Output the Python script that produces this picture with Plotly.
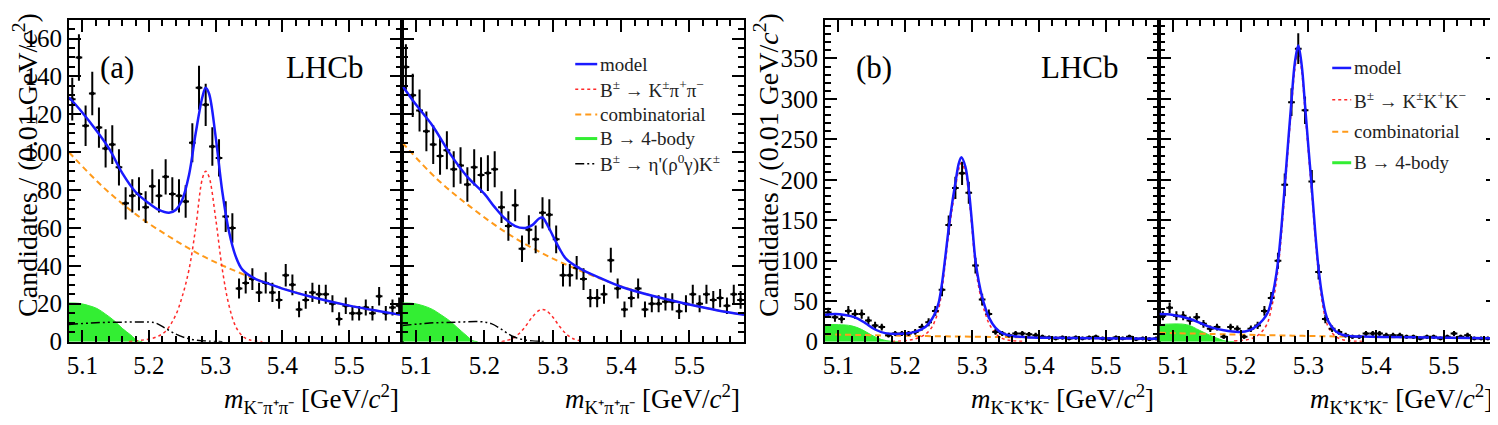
import plotly.graph_objects as go

W, H = 1498, 425

# ---------------- data ----------------
mass_bins = [5.085, 5.095, 5.105, 5.115, 5.125, 5.135, 5.145, 5.155, 5.165, 5.175,
             5.185, 5.195, 5.205, 5.215, 5.225, 5.235, 5.245, 5.255, 5.265, 5.275,
             5.285, 5.295, 5.305, 5.315, 5.325, 5.335, 5.345, 5.355, 5.365, 5.375,
             5.385, 5.395, 5.405, 5.415, 5.425, 5.435, 5.445, 5.455, 5.465, 5.475,
             5.485, 5.495, 5.505, 5.515, 5.525, 5.535, 5.545, 5.555, 5.565, 5.575]

counts_Kmpipi = [128, 150, 114, 131, 113, 102, 104, 92, 73, 77,
                 78, 71, 82, 77, 87, 78, 77, 74, 105, 134,
                 125, 103, 97, 66, 60, 28, 31, 33, 26, 31,
                 26, 22, 35, 30, 17, 22, 26, 25, 25, 20,
                 12, 19, 15, 15, 18, 15, 24, 15, 18, 19]
counts_Kppipi = [145, 130, 122, 111, 104, 98, 101, 91, 93, 83,
                 92, 88, 89, 91, 71, 61, 72, 49, 59, 54,
                 68, 67, 54, 35, 35, 39, 33, 23, 23, 25,
                 43, 28, 17, 23, 28, 17, 20, 20, 21, 21,
                 16, 20, 25, 20, 25, 22, 23, 19, 25, 22]
counts_KmKK = [36, 30, 28, 38, 34, 34, 26, 20, 18, 8,
               10, 10, 10, 12, 18, 24, 38, 64, 144, 190,
               208, 184, 94, 52, 34, 12, 10, 8, 10, 10,
               9, 8, 6, 5, 4, 5, 4, 5, 4, 5,
               6, 4, 3, 5, 4, 6, 3, 4, 3, 4]
counts_KpKK = [32, 42, 32, 32, 26, 30, 22, 16, 18, 6,
               18, 16, 6, 16, 20, 38, 54, 100, 194, 296,
               362, 286, 198, 86, 28, 16, 12, 8, 6, 6,
               10, 10, 10, 8, 8, 8, 6, 6, 4, 6,
               6, 4, 6, 10, 6, 8, 4, 4, 4, 4]

# fit components (panel a, K- pi+ pi-)
a1_model_x = [5.080, 5.100, 5.120, 5.140, 5.160, 5.180, 5.200, 5.215, 5.230, 5.240, 5.250, 5.260,
              5.270, 5.280, 5.285, 5.290, 5.300, 5.310, 5.320, 5.330, 5.340, 5.360, 5.380, 5.400,
              5.450, 5.500, 5.550, 5.580]
a1_model_y = [129, 121, 112, 102, 89, 79, 73, 69.5, 68, 69.5, 75, 88,
              110, 129, 134, 131, 108, 79, 58, 45, 38, 33, 30.5, 28,
              23, 19, 15.8, 14]
a1_comb_x = [5.08, 5.13, 5.18, 5.23, 5.28, 5.33, 5.38, 5.43, 5.48, 5.53, 5.58]
a1_comb_y = [100, 82, 67.3, 55.5, 45.3, 37.2, 30.5, 25, 20.5, 17, 14]
a1_sig_x = [5.17, 5.19, 5.21, 5.225, 5.24, 5.25, 5.26, 5.27, 5.28, 5.285, 5.29, 5.30,
            5.31, 5.32, 5.33, 5.34, 5.35, 5.37]
a1_sig_y = [0, 0.8, 2.3, 5.5, 14, 24, 38, 60, 86, 90, 87, 65,
            38, 19, 8, 3, 1, 0]
a1_4b_x = [5.08, 5.095, 5.11, 5.122, 5.135, 5.148, 5.16, 5.173, 5.183, 5.19]
a1_4b_y = [20.4, 20.2, 19, 17.5, 14.5, 11, 7, 3.4, 0.5, 0]
a1_eta_x = [5.08, 5.12, 5.16, 5.20, 5.21, 5.225, 5.24, 5.255, 5.27, 5.29, 5.31]
a1_eta_y = [9, 10, 10.3, 10.3, 9.8, 7, 4, 2, 0.8, 0.2, 0]

# panel a, K+ pi+ pi-
a2_model_x = [5.080, 5.100, 5.124, 5.150, 5.175, 5.200, 5.215, 5.230, 5.245, 5.260, 5.270, 5.280,
              5.285, 5.290, 5.300, 5.310, 5.320, 5.340, 5.370, 5.400, 5.450, 5.500, 5.540, 5.580]
a2_model_y = [135, 125, 114, 99, 87, 78, 71, 65, 61, 60, 61.5, 65,
              65.5, 63, 56, 49, 43.5, 38.5, 33.5, 29, 23.8, 19.6, 16.6, 14.2]
a2_comb_x = [5.08, 5.13, 5.18, 5.23, 5.28, 5.33, 5.38, 5.43, 5.48, 5.53, 5.58]
a2_comb_y = [105, 86, 71, 58, 47.5, 39, 31.8, 25.8, 21.2, 17.3, 14.2]
a2_sig_x = [5.225, 5.24, 5.25, 5.26, 5.27, 5.28, 5.285, 5.29, 5.30, 5.31, 5.32, 5.33, 5.345]
a2_sig_y = [0, 1.5, 4, 8, 13, 16.5, 17, 16.5, 13, 8, 4, 1.5, 0]
a2_4b_x = [5.08, 5.095, 5.11, 5.124, 5.135, 5.149, 5.16, 5.173, 5.183, 5.19]
a2_4b_y = [20.4, 20.2, 19, 17, 14.5, 11, 7.5, 3.4, 0.5, 0]
a2_eta_x = [5.08, 5.12, 5.16, 5.195, 5.21, 5.225, 5.24, 5.255, 5.27, 5.29]
a2_eta_y = [8.5, 9.8, 10.3, 10.5, 9.5, 6.5, 3, 1.2, 0.4, 0]

# panel b, K- K+ K-
b1_model_x = [5.080, 5.095, 5.110, 5.125, 5.140, 5.155, 5.170, 5.185, 5.200, 5.215, 5.230, 5.240,
              5.245, 5.250, 5.255, 5.260, 5.265, 5.270, 5.275, 5.280, 5.284, 5.290, 5.295, 5.300,
              5.305, 5.310, 5.315, 5.320, 5.325, 5.335, 5.345, 5.360, 5.380, 5.420, 5.480, 5.580]
b1_model_y = [33, 34, 33, 30, 23, 15, 10.5, 9.5, 10, 12, 18, 28,
              36, 48, 72, 105, 140, 170, 196, 220, 228, 216, 188, 145,
              100, 74, 55, 41, 30, 17, 10.5, 7, 5.5, 4.8, 4.3, 3.5]
b1_comb_x = [5.08, 5.18, 5.28, 5.38, 5.48, 5.58]
b1_comb_y = [9, 7.5, 6.3, 5.3, 4.3, 3.5]
b1_sig_x = [5.18, 5.20, 5.215, 5.23, 5.24, 5.245, 5.25, 5.255, 5.26, 5.265, 5.27, 5.275, 5.28,
            5.284, 5.29, 5.295, 5.30, 5.305, 5.31, 5.315, 5.32, 5.325, 5.335, 5.345, 5.36, 5.38]
b1_sig_y = [0.3, 1.2, 3.5, 9, 18, 27, 40, 64, 98, 133, 163, 189, 213,
            221, 209, 181, 138, 93, 67, 48, 34, 23, 10, 4, 1.2, 0.3]
b1_4b_x = [5.08, 5.10, 5.12, 5.135, 5.15, 5.165, 5.18, 5.19]
b1_4b_y = [21, 21, 19.5, 15, 8, 2.5, 0.3, 0]

# panel b, K+ K+ K-
b2_model_x = [5.080, 5.100, 5.125, 5.140, 5.155, 5.175, 5.198, 5.213, 5.223, 5.233, 5.240, 5.245,
              5.250, 5.255, 5.260, 5.265, 5.270, 5.275, 5.280, 5.285, 5.290, 5.295, 5.300, 5.305,
              5.310, 5.315, 5.320, 5.325, 5.330, 5.340, 5.350, 5.360, 5.380, 5.420, 5.480, 5.580]
b2_model_y = [34, 33, 28, 23, 18, 14, 12, 14, 19, 27, 36, 50,
              70, 98, 140, 192, 246, 298, 345, 366, 342, 292, 240, 190,
              136, 90, 58, 36, 24, 13, 8.5, 7, 6.2, 5.6, 5, 4.2]
b2_comb_x = [5.08, 5.18, 5.28, 5.38, 5.48, 5.58]
b2_comb_y = [11, 9, 7.3, 6, 5, 4.2]
b2_sig_x = [5.19, 5.20, 5.213, 5.223, 5.233, 5.24, 5.245, 5.25, 5.255, 5.26, 5.265, 5.27, 5.275,
            5.28, 5.285, 5.29, 5.295, 5.30, 5.305, 5.31, 5.315, 5.32, 5.325, 5.33, 5.34, 5.35,
            5.36, 5.38]
b2_sig_y = [0.8, 1.5, 3, 6.5, 14, 24, 40, 60, 89, 131, 184, 238, 290,
            337, 359, 335, 285, 233, 183, 129, 83, 51, 29, 17, 6.5, 2.5,
            1, 0.3]
b2_4b_x = [5.08, 5.12, 5.139, 5.154, 5.169, 5.179, 5.19]
b2_4b_y = [21, 21, 14, 8, 3, 0.5, 0]

x_tick_vals = [5.1, 5.2, 5.3, 5.4, 5.5]

# ---------------- styles ----------------
SERIF = "'Liberation Serif', 'Times New Roman', Times, serif"
C_MODEL = "#1a1aff"
C_SIG = "#ff2a2a"
C_COMB = "#ff9a1a"
C_4B = "#33ee33"
C_ETA = "black"
DASH_ETA = "9px,3px,2px,3px,2px,3px"
DASH_COMB = "6px,4px"

def px2fx(px):
    return px / W

def px2fy(py):
    return 1 - py / H

YDOM = [px2fy(345), px2fy(12)]
XDOMS = [[px2fx(59), px2fx(393)], [px2fx(393), px2fx(735)],
         [px2fx(816), px2fx(1151)], [px2fx(1151), px2fx(1490)]]

fig = go.Figure()

def curve(x, y, xa, ya, color, width, dash=None, fill=None):
    fig.add_trace(go.Scatter(
        x=x, y=y, mode="lines", xaxis=xa, yaxis=ya,
        line=dict(color=color, width=width, dash=dash, shape="spline", smoothing=1.0),
        fill=fill, fillcolor=color if fill else None, hoverinfo="skip"))

def points(y, xa, ya):
    fig.add_trace(go.Scatter(
        x=mass_bins, y=y, mode="markers", xaxis=xa, yaxis=ya,
        marker=dict(color="black", size=4),
        error_y=dict(type="sqrt", color="black", thickness=2, width=0),
        error_x=dict(type="constant", value=0.005, color="black", thickness=2, width=0)))

# panel a left
curve(a1_4b_x, a1_4b_y, "x", "y", C_4B, 1, fill="tozeroy")
curve(a1_comb_x, a1_comb_y, "x", "y", C_COMB, 2, DASH_COMB)
curve(a1_sig_x, a1_sig_y, "x", "y", C_SIG, 1.5, "dot")
curve(a1_eta_x, a1_eta_y, "x", "y", C_ETA, 1.5, DASH_ETA)
points(counts_Kmpipi, "x", "y")
curve(a1_model_x, a1_model_y, "x", "y", C_MODEL, 2.5)

# panel a right
curve(a2_4b_x, a2_4b_y, "x2", "y2", C_4B, 1, fill="tozeroy")
curve(a2_comb_x, a2_comb_y, "x2", "y2", C_COMB, 2, DASH_COMB)
curve(a2_sig_x, a2_sig_y, "x2", "y2", C_SIG, 1.5, "dot")
curve(a2_eta_x, a2_eta_y, "x2", "y2", C_ETA, 1.5, DASH_ETA)
points(counts_Kppipi, "x2", "y2")
curve(a2_model_x, a2_model_y, "x2", "y2", C_MODEL, 2.5)

# panel b left
curve(b1_4b_x, b1_4b_y, "x3", "y3", C_4B, 1, fill="tozeroy")
curve(b1_comb_x, b1_comb_y, "x3", "y3", C_COMB, 2, DASH_COMB)
curve(b1_sig_x, b1_sig_y, "x3", "y3", C_SIG, 1.5, "dot")
points(counts_KmKK, "x3", "y3")
curve(b1_model_x, b1_model_y, "x3", "y3", C_MODEL, 2.5)

# panel b right
curve(b2_4b_x, b2_4b_y, "x4", "y4", C_4B, 1, fill="tozeroy")
curve(b2_comb_x, b2_comb_y, "x4", "y4", C_COMB, 2, DASH_COMB)
curve(b2_sig_x, b2_sig_y, "x4", "y4", C_SIG, 1.5, "dot")
points(counts_KpKK, "x4", "y4")
curve(b2_model_x, b2_model_y, "x4", "y4", C_MODEL, 2.5)

tickfont = dict(family=SERIF, size=25, color="black")

def xax(i, anchor):
    return dict(domain=XDOMS[i], anchor=anchor, range=[5.08, 5.58],
                tickmode="array", tickvals=x_tick_vals, ticktext=[f"{v:.1f}" for v in x_tick_vals],
                ticks="inside", ticklen=12, tickwidth=1.5, tickcolor="black",
                minor=dict(dtick=0.02, tick0=5.0, ticks="inside", ticklen=6, tickwidth=1.5,
                           tickcolor="black"),
                showline=True, linecolor="black", linewidth=2, mirror="allticks",
                showgrid=False, zeroline=False, tickfont=tickfont)

def yax(anchor, rng, dt, mdt, labels):
    return dict(domain=YDOM, anchor=anchor, range=rng, dtick=dt, tick0=0,
                ticks="inside", ticklen=12, tickwidth=1.5, tickcolor="black",
                minor=dict(dtick=mdt, ticks="inside", ticklen=6, tickwidth=1.5, tickcolor="black"),
                showline=True, linecolor="black", linewidth=2, mirror="allticks",
                showgrid=False, zeroline=False, showticklabels=labels, tickfont=tickfont)

fig.update_layout(
    width=W, height=H, margin=dict(l=0, r=0, t=0, b=0),
    paper_bgcolor="white", plot_bgcolor="white", showlegend=False,
    font=dict(family=SERIF, color="black"),
    xaxis=xax(0, "y"), xaxis2=xax(1, "y2"), xaxis3=xax(2, "y3"), xaxis4=xax(3, "y4"),
    yaxis=yax("x", [0, 170], 20, 5, True),
    yaxis2=yax("x2", [0, 170], 20, 5, False),
    yaxis3=yax("x3", [0, 398], 50, 10, True),
    yaxis4=yax("x4", [0, 398], 50, 10, False),
)

ann = []
ytitle = "Candidates / (0.01 GeV/<i>c</i><sup>2</sup>)"
for xc in (16, 758):
    ann.append(dict(text=ytitle, x=px2fx(xc), y=px2fy(3), xref="paper", yref="paper",
                    xanchor="center", yanchor="top", textangle=-90, showarrow=False,
                    font=dict(family=SERIF, size=28, color="black")))

xtitles = [("<i>m</i><sub>K⁻π⁺π⁻</sub> [GeV/<i>c</i><sup>2</sup>]", 392),
           ("<i>m</i><sub>K⁺π⁺π⁻</sub> [GeV/<i>c</i><sup>2</sup>]", 733),
           ("<i>m</i><sub>K⁻K⁺K⁻</sub> [GeV/<i>c</i><sup>2</sup>]", 1148),
           ("<i>m</i><sub>K⁺K⁺K⁻</sub> [GeV/<i>c</i><sup>2</sup>]", 1487)]
for t, xr in xtitles:
    ann.append(dict(text=t, x=px2fx(xr), y=px2fy(404), xref="paper", yref="paper",
                    xanchor="right", yanchor="middle", showarrow=False,
                    font=dict(family=SERIF, size=27, color="black")))

for t, xc in (("(a)", 107), ("LHCb", 315), ("(b)", 865), ("LHCb", 1071)):
    ann.append(dict(text=t, x=px2fx(xc), y=px2fy(62), xref="paper", yref="paper",
                    xanchor="center", yanchor="middle", showarrow=False,
                    font=dict(family=SERIF, size=31, color="black")))

# legends
legend_a = [("model", C_MODEL, 2.5, None),
            ("B<sup>±</sup> → K<sup>±</sup>π<sup>+</sup>π<sup>−</sup>", C_SIG, 1.5, "dot"),
            ("combinatorial", C_COMB, 2, DASH_COMB),
            ("B → 4-body", C_4B, 3, None),
            ("B<sup>±</sup> → η'(ρ<sup>0</sup>γ)K<sup>±</sup>", C_ETA, 1.5, DASH_ETA)]
legend_b = [("model", C_MODEL, 2.5, None),
            ("B<sup>±</sup> → K<sup>±</sup>K<sup>+</sup>K<sup>−</sup>", C_SIG, 1.5, "dot"),
            ("combinatorial", C_COMB, 2, DASH_COMB),
            ("B → 4-body", C_4B, 3, None)]

shapes = []
def draw_legend(entries, rows, x0, x1, xt):
    for (t, c, w, d), yr in zip(entries, rows):
        shapes.append(dict(type="line", xref="paper", yref="paper",
                           x0=px2fx(x0), x1=px2fx(x1), y0=px2fy(yr), y1=px2fy(yr),
                           line=dict(color=c, width=w, dash=d)))
        ann.append(dict(text=t, x=px2fx(xt), y=px2fy(yr), xref="paper", yref="paper",
                        xanchor="left", yanchor="middle", showarrow=False,
                        font=dict(family=SERIF, size=19, color="#222222")))

draw_legend(legend_a, [58, 84, 110, 135, 161], 566, 588, 589)
draw_legend(legend_b, [62, 95, 128, 160], 1324, 1343, 1344)

fig.update_layout(annotations=ann, shapes=shapes)

fig.write_html("out.html")
